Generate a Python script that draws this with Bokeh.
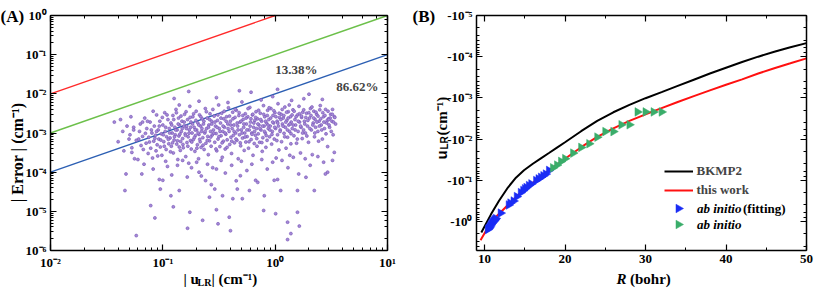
import math
from bokeh.plotting import figure
from bokeh.layouts import row
from bokeh.models import (Range1d, LogAxis, LinearAxis, LogTicker, SingleIntervalTicker,
                          CustomJSTickFormatter, Label, Legend, LegendItem)
from bokeh.embed import file_html
from bokeh.resources import INLINE

SERIF = "Liberation Serif"
SANS = "Liberation Sans"

# ---------------- Panel (A) data: (|u_LR|, |Error|) in cm^-1 ----------------
core_points = [
    (0.051, 9.0e-4), (0.053, 3.2e-4), (0.055, 1.4e-3), (0.058, 6.5e-4), (0.060, 2.1e-4),
    (0.062, 1.1e-3), (0.064, 4.8e-4), (0.066, 8.2e-4), (0.068, 1.6e-4), (0.069, 2.4e-3),
    (0.071, 5.5e-4), (0.072, 1.3e-3), (0.074, 3.0e-4), (0.075, 7.8e-4), (0.077, 1.9e-3),
    (0.078, 4.1e-4), (0.080, 1.0e-3), (0.081, 2.3e-4), (0.083, 6.2e-4), (0.084, 1.5e-3),
    (0.086, 8.8e-4), (0.087, 3.5e-4), (0.088, 2.9e-3), (0.089, 5.0e-4),
    (0.091, 1.2e-3), (0.092, 7.0e-4), (0.094, 2.0e-3), (0.095, 4.4e-4), (0.097, 9.5e-4),
    (0.098, 2.7e-4), (0.100, 1.6e-3), (0.102, 6.0e-4), (0.104, 3.3e-3), (0.105, 1.1e-3),
    (0.107, 3.8e-4), (0.108, 8.0e-4), (0.110, 1.4e-4), (0.111, 2.2e-3), (0.113, 5.3e-4),
    (0.114, 1.3e-3),
    (0.116, 7.5e-4), (0.118, 1.8e-3), (0.119, 4.6e-4), (0.121, 1.0e-3), (0.123, 2.8e-3),
    (0.124, 3.1e-4), (0.126, 6.6e-4), (0.128, 1.4e-3), (0.129, 9.0e-4), (0.131, 4.0e-3),
    (0.133, 5.2e-4), (0.134, 1.2e-3), (0.136, 2.1e-4), (0.138, 2.4e-3), (0.139, 8.4e-4),
    (0.141, 1.6e-3), (0.143, 3.6e-4), (0.144, 6.1e-4),
    (0.146, 1.1e-3), (0.148, 2.0e-3), (0.150, 7.2e-4), (0.152, 4.2e-4), (0.154, 1.5e-3),
    (0.156, 3.0e-3), (0.158, 9.6e-4), (0.160, 2.5e-4), (0.162, 1.3e-3), (0.164, 5.7e-4),
    (0.166, 2.2e-3), (0.168, 8.0e-4), (0.170, 1.7e-4), (0.172, 1.2e-3), (0.174, 4.8e-3),
    (0.176, 6.4e-4), (0.178, 1.9e-3), (0.179, 3.9e-4),
    (0.182, 1.0e-3), (0.185, 2.6e-3), (0.187, 6.8e-4), (0.190, 1.4e-3), (0.193, 3.4e-4),
    (0.195, 8.6e-4), (0.198, 3.6e-3), (0.200, 1.2e-3), (0.203, 5.0e-4), (0.205, 1.8e-3),
    (0.208, 2.2e-4), (0.210, 9.2e-4), (0.212, 2.9e-3), (0.215, 6.0e-4), (0.217, 1.5e-3),
    (0.219, 4.3e-4), (0.221, 1.1e-3), (0.224, 2.3e-3),
    (0.227, 7.6e-4), (0.230, 1.7e-3), (0.233, 3.8e-4), (0.236, 1.0e-3), (0.239, 4.2e-3),
    (0.242, 5.5e-4), (0.245, 1.3e-3), (0.248, 2.4e-3), (0.251, 8.2e-4), (0.254, 2.8e-4),
    (0.257, 1.6e-3), (0.260, 6.3e-4), (0.263, 3.1e-3), (0.266, 1.1e-3), (0.269, 4.6e-4),
    (0.272, 2.0e-3), (0.275, 8.9e-4), (0.278, 1.3e-4),
    (0.282, 1.2e-3), (0.286, 2.7e-3), (0.290, 5.8e-4), (0.294, 1.5e-3), (0.298, 9.7e-4),
    (0.302, 3.5e-4), (0.306, 2.1e-3), (0.310, 7.0e-4), (0.314, 5.2e-3), (0.318, 1.3e-3),
    (0.322, 4.5e-4), (0.326, 1.8e-3), (0.330, 8.5e-4), (0.334, 3.2e-3), (0.338, 2.4e-4),
    (0.342, 1.1e-3), (0.346, 6.2e-4), (0.349, 2.3e-3),
    (0.354, 1.4e-3), (0.359, 3.9e-4), (0.364, 9.3e-4), (0.369, 2.6e-3), (0.374, 6.7e-4),
    (0.379, 1.7e-3), (0.384, 4.4e-3), (0.389, 1.1e-3), (0.394, 5.1e-4), (0.399, 2.0e-3),
    (0.404, 7.8e-4), (0.409, 3.0e-4), (0.414, 1.3e-3), (0.419, 3.4e-3), (0.424, 8.7e-4),
    (0.429, 1.6e-3), (0.434, 5.6e-4), (0.439, 2.5e-3),
    (0.445, 1.0e-3), (0.451, 3.8e-3), (0.457, 6.5e-4), (0.463, 1.5e-3), (0.469, 2.2e-4),
    (0.475, 2.8e-3), (0.481, 9.0e-4), (0.487, 1.9e-3), (0.493, 4.7e-4), (0.499, 1.2e-3),
    (0.506, 6.2e-3), (0.512, 7.4e-4), (0.518, 2.2e-3), (0.524, 1.4e-3), (0.530, 3.6e-4),
    (0.536, 1.0e-3), (0.542, 3.1e-3), (0.548, 5.9e-4),
    (0.555, 1.7e-3), (0.563, 8.1e-4), (0.571, 2.6e-3), (0.579, 4.1e-4), (0.587, 1.2e-3),
    (0.595, 4.5e-3), (0.603, 1.9e-3), (0.611, 6.8e-4), (0.619, 1.0e-3), (0.627, 2.9e-3),
    (0.635, 2.7e-4), (0.643, 1.4e-3), (0.651, 5.4e-4), (0.659, 2.1e-3), (0.667, 8.8e-4),
    (0.675, 3.5e-3), (0.683, 1.3e-3), (0.689, 4.6e-4),
    (0.697, 2.3e-3), (0.707, 9.5e-4), (0.717, 1.6e-3), (0.727, 5.8e-4), (0.737, 3.2e-3),
    (0.747, 1.2e-3), (0.757, 2.0e-3), (0.767, 3.4e-4), (0.777, 7.6e-4), (0.787, 5.0e-3),
    (0.797, 1.5e-3), (0.807, 2.6e-3), (0.817, 1.0e-3), (0.827, 4.3e-4), (0.837, 1.8e-3),
    (0.847, 6.5e-4), (0.857, 3.8e-3), (0.867, 1.3e-3),
    (0.878, 2.2e-3), (0.891, 8.0e-4), (0.904, 1.5e-3), (0.917, 4.2e-3), (0.930, 5.2e-4),
    (0.943, 1.1e-3), (0.956, 2.8e-3), (0.969, 1.8e-3), (0.982, 7.0e-4), (0.995, 3.3e-3),
    (1.01, 1.3e-3), (1.02, 2.3e-4), (1.04, 2.0e-3), (1.05, 9.0e-4), (1.06, 5.6e-3),
    (1.07, 1.5e-3), (1.08, 3.7e-4), (1.09, 2.5e-3),
    (1.11, 1.2e-3), (1.13, 3.0e-3), (1.14, 6.0e-4), (1.16, 1.7e-3), (1.18, 2.4e-3),
    (1.20, 9.8e-4), (1.22, 4.6e-3), (1.23, 1.4e-3), (1.25, 4.1e-4), (1.27, 2.1e-3),
    (1.29, 7.8e-4), (1.31, 3.5e-3), (1.32, 1.6e-3), (1.34, 1.1e-3), (1.35, 2.7e-4),
    (1.37, 2.6e-3), (1.38, 5.3e-4), (1.39, 1.9e-3),
    (1.42, 1.3e-3), (1.44, 3.9e-3), (1.47, 8.5e-4), (1.50, 2.2e-3), (1.52, 1.6e-3),
    (1.55, 5.5e-4), (1.58, 2.9e-3), (1.60, 1.1e-3), (1.63, 4.8e-3), (1.65, 1.9e-3),
    (1.68, 3.1e-4), (1.70, 1.4e-3), (1.72, 2.5e-3), (1.74, 7.2e-4), (1.76, 3.4e-3),
    (1.79, 1.2e-3),
    (1.82, 2.0e-3), (1.86, 1.0e-3), (1.90, 3.2e-3), (1.94, 1.5e-3), (1.98, 5.8e-4),
    (2.02, 2.4e-3), (2.06, 4.2e-3), (2.10, 1.2e-3), (2.14, 2.8e-4), (2.18, 1.8e-3),
    (2.21, 3.6e-3), (2.24, 8.0e-4), (2.27, 2.2e-3), (2.29, 1.4e-3),
    (2.34, 3.0e-3), (2.40, 1.1e-3), (2.46, 2.0e-3), (2.52, 5.0e-3), (2.57, 1.6e-3),
    (2.63, 7.0e-4), (2.69, 2.6e-3), (2.75, 1.3e-3), (2.81, 4.0e-3), (2.87, 1.8e-3),
    (2.93, 4.5e-4), (2.98, 2.3e-3),
    (3.05, 1.4e-3), (3.12, 3.0e-3), (3.20, 2.0e-3), (3.28, 9.0e-4), (3.36, 2.6e-3),
    (3.45, 1.7e-3),
]
dense_points = [
    (0.061, 7.0e-4), (0.063, 1.7e-3), (0.067, 3.8e-4), (0.070, 9.8e-4), (0.073, 2.0e-3),
    (0.076, 5.9e-4), (0.079, 1.2e-3), (0.082, 3.6e-3), (0.085, 7.3e-4), (0.088, 1.1e-3),
    (0.090, 2.6e-4), (0.093, 1.5e-3), (0.096, 6.6e-4), (0.099, 2.5e-3), (0.101, 9.0e-4),
    (0.103, 4.6e-4),
    (0.106, 1.4e-3), (0.109, 2.9e-3), (0.112, 6.9e-4), (0.115, 1.0e-3), (0.117, 3.3e-4),
    (0.120, 1.6e-3), (0.122, 5.6e-4), (0.125, 2.2e-3), (0.127, 8.0e-4), (0.130, 1.2e-3),
    (0.132, 3.3e-3), (0.135, 6.3e-4), (0.137, 1.7e-3), (0.140, 4.4e-4), (0.142, 9.4e-4),
    (0.145, 2.7e-3), (0.149, 1.3e-3), (0.151, 5.1e-4), (0.155, 1.9e-3), (0.159, 8.7e-4),
    (0.161, 3.5e-3), (0.163, 1.5e-3), (0.167, 4.6e-4), (0.171, 9.9e-4), (0.175, 2.5e-3),
    (0.177, 1.4e-3), (0.181, 5.9e-4), (0.184, 1.7e-3), (0.188, 3.1e-3), (0.191, 7.7e-4),
    (0.194, 1.2e-3), (0.197, 2.1e-3), (0.201, 4.1e-4), (0.206, 1.0e-3), (0.209, 1.6e-3),
    (0.213, 6.9e-4), (0.218, 2.6e-3), (0.223, 1.3e-3), (0.228, 4.9e-4), (0.232, 2.0e-3),
    (0.238, 1.1e-3), (0.244, 3.5e-3),
    (0.249, 6.5e-4), (0.255, 1.4e-3), (0.261, 2.2e-3), (0.267, 7.9e-4), (0.273, 1.7e-3),
    (0.279, 4.0e-3), (0.284, 9.9e-4), (0.291, 1.9e-3), (0.297, 3.9e-4), (0.304, 1.4e-3),
    (0.309, 2.9e-3), (0.316, 8.1e-4), (0.323, 1.1e-3), (0.329, 2.4e-3), (0.337, 5.6e-4),
    (0.344, 1.5e-3), (0.352, 3.6e-3), (0.358, 1.0e-3), (0.366, 2.0e-3), (0.373, 4.3e-4),
    (0.381, 1.3e-3), (0.392, 2.7e-3),
    (0.402, 1.6e-3), (0.411, 6.2e-4), (0.421, 2.3e-3), (0.431, 1.1e-3), (0.441, 4.0e-3),
    (0.448, 7.0e-4), (0.459, 1.8e-3), (0.467, 1.2e-3), (0.478, 3.3e-3), (0.489, 5.6e-4),
    (0.497, 2.0e-3), (0.508, 1.0e-3), (0.515, 2.8e-3), (0.527, 1.7e-3), (0.539, 7.9e-4),
    (0.551, 2.4e-3), (0.561, 1.2e-3), (0.574, 4.2e-3), (0.585, 6.0e-4), (0.598, 1.5e-3),
    (0.609, 2.3e-3), (0.622, 9.3e-4), (0.633, 3.0e-3), (0.646, 1.8e-3),
    (0.655, 1.1e-3), (0.671, 2.5e-3), (0.686, 7.2e-4), (0.702, 1.7e-3), (0.712, 3.8e-3),
    (0.731, 1.3e-3), (0.743, 2.2e-3), (0.761, 5.7e-4), (0.772, 1.5e-3), (0.791, 3.0e-3),
    (0.803, 1.1e-3), (0.821, 2.0e-3), (0.833, 8.6e-4), (0.851, 2.8e-3), (0.862, 1.6e-3),
    (0.884, 4.4e-3), (0.897, 1.2e-3), (0.912, 2.4e-3), (0.936, 9.2e-4), (0.951, 1.9e-3),
    (0.975, 3.7e-3), (0.991, 1.4e-3), (1.015, 2.6e-3), (1.035, 6.4e-4),
    (1.055, 1.8e-3), (1.085, 3.2e-3), (1.105, 1.1e-3), (1.125, 2.2e-3), (1.155, 4.0e-3),
    (1.175, 1.5e-3), (1.195, 2.8e-3), (1.215, 8.0e-4), (1.245, 1.9e-3), (1.265, 3.4e-3),
    (1.285, 1.2e-3), (1.305, 2.4e-3), (1.335, 5.2e-3), (1.355, 1.7e-3), (1.385, 9.6e-4),
    (1.415, 2.9e-3), (1.445, 1.6e-3), (1.475, 3.6e-3), (1.505, 1.2e-3), (1.535, 2.6e-3),
    (1.575, 7.0e-4), (1.605, 2.0e-3), (1.645, 3.1e-3), (1.685, 1.5e-3),
    (1.715, 2.7e-3), (1.755, 1.0e-3), (1.795, 3.9e-3), (1.835, 1.7e-3), (1.875, 2.5e-3),
    (1.915, 8.4e-4), (1.955, 2.1e-3), (1.995, 3.3e-3), (2.035, 1.3e-3), (2.085, 2.8e-3),
    (2.125, 4.6e-3), (2.165, 1.6e-3), (2.205, 2.4e-3), (2.255, 1.0e-3), (2.305, 3.4e-3),
    (2.355, 1.9e-3), (2.405, 2.7e-3), (2.435, 6.2e-4), (2.475, 1.5e-3), (2.495, 3.9e-3),
    (2.545, 2.3e-3), (2.595, 1.2e-3), (2.655, 3.3e-3), (2.715, 1.9e-3), (2.775, 2.8e-3),
    (2.835, 9.5e-4), (2.905, 2.1e-3), (2.955, 3.6e-3), (3.015, 1.6e-3), (3.085, 2.4e-3),
    (3.155, 1.1e-3), (3.225, 3.0e-3), (3.305, 1.9e-3), (3.395, 2.5e-3),
]
low_points = [
    (0.065, 9.0e-5), (0.082, 1.2e-4), (0.093, 6.5e-5), (0.106, 1.9e-4), (0.120, 8.5e-5),
    (0.135, 1.5e-4), (0.150, 2.0e-4), (0.165, 7.5e-5), (0.180, 1.3e-4), (0.200, 1.8e-4),
    (0.220, 8.0e-5), (0.250, 1.6e-4), (0.270, 4.8e-5), (0.300, 1.2e-4), (0.330, 2.0e-4),
    (0.360, 9.5e-5), (0.410, 1.5e-4), (0.450, 6.0e-5), (0.500, 1.9e-4), (0.560, 1.1e-4),
    (0.620, 1.6e-4), (0.700, 5.5e-5), (0.760, 2.1e-4), (0.850, 1.2e-4), (0.950, 1.8e-4),
    (1.05, 6.5e-5), (1.15, 2.0e-4), (1.30, 1.3e-4), (1.45, 2.4e-4), (1.62, 9.0e-5),
    (1.85, 2.2e-4), (2.05, 1.5e-4), (2.40, 2.5e-4), (2.70, 1.8e-4),
]
edge_points = [
    (0.037, 1.9e-3), (0.040, 6.0e-4), (0.042, 2.2e-3), (0.044, 1.1e-3), (0.045, 3.5e-4),
    (0.047, 9.0e-5), (0.048, 1.5e-3), (0.050, 7.0e-4), (0.052, 2.6e-3), (0.053, 4.2e-4),
    (0.055, 1.2e-3), (0.056, 2.2e-4), (0.066, 1.9e-3),
    (0.126, 7.6e-3), (0.14, 5.2e-3), (0.17, 1.15e-2), (0.21, 6.5e-3), (0.30, 8.0e-3),
    (0.38, 6.0e-3), (0.48, 1.2e-2), (0.61, 1.1e-2), (0.75, 7.0e-3), (0.95, 8.5e-3),
    (1.05, 1.3e-2), (1.40, 6.8e-3), (1.80, 7.5e-3), (2.00, 9.8e-3), (2.63, 7.2e-3),
    (3.24, 4.0e-3), (3.00, 2.2e-3), (3.36, 3.2e-4), (2.93, 1.0e-4), (3.24, 2.0e-4),
]
tail_points = [
    (0.046, 3.4e-5), (0.058, 2.4e-6), (0.078, 1.4e-5), (0.085, 6.8e-6), (0.095, 3.7e-5),
    (0.100, 6.2e-5), (0.118, 2.5e-5), (0.124, 1.3e-5), (0.140, 3.4e-5), (0.166, 3.7e-6),
    (0.174, 9.5e-6), (0.210, 1.0e-4), (0.226, 5.9e-6), (0.240, 6.1e-5), (0.260, 2.3e-5),
    (0.290, 3.7e-5), (0.300, 1.1e-5), (0.310, 4.8e-6), (0.340, 2.5e-5), (0.390, 7.1e-6),
    (0.400, 3.2e-6), (0.420, 2.1e-5), (0.460, 3.7e-5), (0.490, 8.1e-5), (0.510, 2.1e-5),
    (0.590, 3.4e-5), (0.670, 6.2e-5), (0.790, 1.05e-5), (0.800, 2.5e-5), (0.980, 6.2e-5),
    (1.01, 8.7e-6), (1.12, 3.4e-5), (1.29, 5.3e-6), (1.29, 1.9e-6), (1.38, 2.7e-6),
    (1.58, 9.5e-6), (1.58, 3.4e-5), (1.64, 4.2e-6), (1.88, 7.4e-5), (2.23, 3.4e-5),
    (2.80, 9.0e-5),
]
ratio_levels = [1.0, 0.1, 0.01]          # |Error| = ratio * |u_LR|
ratio_colors = ["#ff2a2a", "#6cc04a", "#2c5fb3"]
u_axis_limits = [1e-2, 1e1]              # |u_LR| axis extent
err_axis_limits = [1e-6, 1e0]            # |Error| axis extent
share_texts = ["13.38%", "86.62%"]

# ---------------- Panel (B) data: R (bohr), u_LR (cm^-1) ----------------
R_bkmp2 = [9.6, 10.8, 11.8, 12.9, 13.9, 14.9, 16.0, 17.0, 18.0, 19.0, 20.0, 22.0, 24.0,
           26.0, 28.0, 30.0, 32.0, 34.0, 36.0, 38.0, 40.0, 42.0, 44.0, 46.0, 48.0, 50.0]
u_bkmp2 = [-1.86, -0.676, -0.316, -0.151, -0.0871, -0.0575, -0.0398, -0.0295, -0.0219,
           -0.0162, -0.0120, -6.46e-3, -3.63e-3, -2.24e-3, -1.48e-3, -1.02e-3, -7.24e-4,
           -5.13e-4, -3.63e-4, -2.57e-4, -1.86e-4, -1.35e-4, -1.00e-4, -7.59e-5, -5.89e-5,
           -4.68e-5]
R_this = [9.5, 10.0, 10.8, 11.4, 12.0, 12.9, 14.0, 14.9, 16.0, 17.0, 18.0, 19.0, 20.0,
          22.0, 24.0, 26.0, 28.0, 30.0, 32.0, 34.0, 36.0, 38.0, 40.0, 42.0, 44.0, 46.0,
          48.0, 50.0]
u_this = [-2.88, -1.95, -1.05, -0.78, -0.60, -0.40, -0.25, -0.166, -0.115, -0.083,
          -0.0575, -0.0417, -0.0302, -0.0158, -8.9e-3, -5.5e-3, -3.63e-3, -2.51e-3,
          -1.78e-3, -1.26e-3, -9.1e-4, -6.6e-4, -4.8e-4, -3.55e-4, -2.57e-4, -1.91e-4,
          -1.45e-4, -1.10e-4]
R_fit = [10.4, 10.5, 10.6, 10.7, 10.8, 10.9, 11.0, 11.1, 11.2, 11.3, 11.4, 12.0, 13.0,
         13.2, 13.6, 14.0, 14.5, 14.8, 15.0, 15.2, 15.5, 15.8, 16.4, 16.7, 17.0, 17.3,
         17.6, 18.0]
u_fit = [-1.58, -1.50, -1.41, -1.30, -1.20, -1.12, -1.05, -1.00, -0.95, -0.90, -0.85,
         -0.63, -0.40, -0.36, -0.32, -0.25, -0.20, -0.178, -0.162, -0.151, -0.135,
         -0.123, -0.102, -0.093, -0.085, -0.078, -0.071, -0.058]
R_abinitio = [18.5, 19.0, 19.5, 20.0, 21.0, 22.0, 23.0, 24.0, 25.0, 26.0, 27.0, 28.0,
              29.0, 30.0, 31.0, 32.0]
u_abinitio = [-0.050, -0.043, -0.035, -0.030, -0.022, -0.016, -0.013, -0.009, -0.0066,
              -0.0066, -0.0045, -0.0045, -0.0022, -0.0022, -0.0022, -0.0022]
R_axis_limits = [9, 50]
u_axis_limits_B = [1e-5, 5.1]            # magnitudes shown as -10^n
legend_names = ["BKMP2", "this work"]

# ---------------- helpers ----------------
SUP_JS = r"""
const sup = {"-": "\u207b", "0": "\u2070", "1": "\u00b9", "2": "\u00b2", "3": "\u00b3",
             "4": "\u2074", "5": "\u2075", "6": "\u2076", "7": "\u2077", "8": "\u2078",
             "9": "\u2079"};
const e = Math.round(Math.log10(Math.abs(tick)));
let s = "";
for (const c of String(e)) { s += sup[c]; }
return PREFIX + "10" + s;
"""


def pow_formatter(prefix):
    return CustomJSTickFormatter(code=SUP_JS.replace("PREFIX", '"%s"' % prefix))


def style_axis(ax, show_labels=True, fs="13px"):
    ax.axis_line_color = "black"
    ax.axis_line_width = 1.5
    ax.major_tick_line_color = "black"
    ax.minor_tick_line_color = "black"
    ax.major_tick_line_width = 1.2
    ax.minor_tick_line_width = 1
    ax.major_tick_in = 6
    ax.major_tick_out = 0
    ax.minor_tick_in = 3
    ax.minor_tick_out = 0
    ax.major_label_text_font = SERIF
    ax.major_label_text_font_style = "bold"
    ax.major_label_text_color = "black"
    ax.major_label_text_font_size = fs
    if show_labels:
        ax.major_label_standoff = 4
    else:
        ax.formatter = CustomJSTickFormatter(code="return ''")
        ax.major_label_text_alpha = 0
        ax.major_label_standoff = 0


def add_text(p, x, y, text, size="15px", style="bold", font=SERIF, angle=0.0,
             align="left", baseline="alphabetic"):
    # screen units: the frame covers the whole canvas (origin bottom-left)
    p.add_layout(Label(x=x, y=y, x_units="screen", y_units="screen", text=text,
                       text_font=font, text_font_style=style, text_font_size=size,
                       text_color="black", angle=angle, text_align=align,
                       text_baseline=baseline))


H = 288


def full_canvas_fig(width, x_range, y_range, **kw):
    p = figure(output_backend="svg", toolbar_location=None, width=width, height=H,
               x_range=x_range, y_range=y_range, min_border=0, min_border_left=0,
               min_border_right=0, min_border_top=0, min_border_bottom=0, **kw)
    p.title.visible = False
    p.grid.visible = False
    p.outline_line_color = None
    p.background_fill_color = "white"
    p.border_fill_color = "white"
    return p


# ---------------- Panel (A) ----------------
WA = 400
boxA = dict(left=50, right=387, top=15, bottom=250)          # plot box in canvas px
lx0, lx1 = math.log10(u_axis_limits[0]), math.log10(u_axis_limits[1])
ly0, ly1 = math.log10(err_axis_limits[0]), math.log10(err_axis_limits[1])
pxd_x = (boxA["right"] - boxA["left"]) / (lx1 - lx0)
pxd_y = (boxA["bottom"] - boxA["top"]) / (ly1 - ly0)
xrA = Range1d(10 ** (lx0 - boxA["left"] / pxd_x), 10 ** (lx1 + (WA - boxA["right"]) / pxd_x))
yrA = Range1d(10 ** (ly0 - (H - boxA["bottom"]) / pxd_y), 10 ** (ly1 + boxA["top"] / pxd_y))
pA = full_canvas_fig(WA, xrA, yrA, x_axis_type="log", y_axis_type="log")

for r, c in zip(ratio_levels, ratio_colors):
    u_end = min(u_axis_limits[1], err_axis_limits[1] / r)
    pA.line([u_axis_limits[0], u_end], [r * u_axis_limits[0], r * u_end],
            line_color=c, line_width=1.4)

for pts in (core_points, dense_points, low_points, edge_points, tail_points):
    xs, ys = zip(*pts)
    pA.scatter(list(xs), list(ys), marker="circle", size=3.0, fill_color="#a58ad6",
               line_color="#7450b5", line_width=0.6)

axA_bottom = pA.xaxis[0]
axA_left = pA.yaxis[0]
axA_top = LogAxis(ticker=LogTicker())
axA_right = LogAxis(ticker=LogTicker())
pA.add_layout(axA_top, "above")
pA.add_layout(axA_right, "right")
for ax, loc in ((axA_bottom, err_axis_limits[0]), (axA_top, err_axis_limits[1])):
    ax.fixed_location = loc
    ax.bounds = tuple(u_axis_limits)
for ax, loc in ((axA_left, u_axis_limits[0]), (axA_right, u_axis_limits[1])):
    ax.fixed_location = loc
    ax.bounds = tuple(err_axis_limits)
for ax in (axA_bottom, axA_left):
    style_axis(ax)
    ax.formatter = pow_formatter("")
style_axis(axA_top, show_labels=False)
style_axis(axA_right, show_labels=False)

pA.add_layout(Label(x=1.0, y=0.042, text=share_texts[0], text_font=SERIF,
                    text_font_style="bold", text_font_size="13px", text_baseline="middle"))
pA.add_layout(Label(x=3.5, y=0.0158, text=share_texts[1], text_font=SERIF,
                    text_font_style="bold", text_font_size="13px", text_baseline="middle"))

add_text(pA, 0, 272, "(A)", size="17px")
add_text(pA, 17, 136, "| Error | (cm\u207b\u00b9)", size="16px", angle=math.pi / 2,
         align="center", baseline="middle")
add_text(pA, 183, 9.5, "| u", size="15px")
add_text(pA, 197, 6.5, "LR", size="10px")
add_text(pA, 211, 9.5, "| (cm\u207b\u00b9)", size="15px")

# ---------------- Panel (B) ----------------
WB = 414
boxB = dict(left=76, right=406, top=15, bottom=250)
pxu = (boxB["right"] - boxB["left"]) / (R_axis_limits[1] - R_axis_limits[0])
gy_top, gy_bot = math.log10(u_axis_limits_B[0]), math.log10(u_axis_limits_B[1])
pxd_B = (boxB["bottom"] - boxB["top"]) / (gy_bot - gy_top)
xrB = Range1d(R_axis_limits[0] - boxB["left"] / pxu, R_axis_limits[1] + (WB - boxB["right"]) / pxu)
yrB = Range1d(10 ** (gy_bot + (H - boxB["bottom"]) / pxd_B), 10 ** (gy_top - boxB["top"] / pxd_B))
pB = full_canvas_fig(WB, xrB, yrB, y_axis_type="log")

TRI_R = 5.0   # triangle circumradius in px


def tri_vertices(R, mag):
    """Right-pointing triangle around (R, mag), sized in screen px via the panel scales."""
    dx = TRI_R / pxu
    f = 10 ** (0.866 * TRI_R / pxd_B)
    return [R + dx, R - 0.5 * dx, R - 0.5 * dx], [mag, mag * f, mag / f]


def right_triangles(p, xs, mags, color):
    vx, vy = zip(*(tri_vertices(x, m) for x, m in zip(xs, mags)))
    return p.patches(list(vx), list(vy), fill_color=color, line_color=color, line_width=0.5)


def screen_to_data_B(sx, sy):
    R = xrB.start + sx / pxu
    cy = H - sy
    mag = 10 ** (gy_top + (cy - boxB["top"]) / pxd_B)
    return R, mag


r_black = pB.line(R_bkmp2, [-u for u in u_bkmp2], line_color="black", line_width=2)
r_red = pB.line(R_this, [-u for u in u_this], line_color="#ff1010", line_width=2)
right_triangles(pB, R_fit, [-u for u in u_fit], "#1a2cf5")
right_triangles(pB, R_abinitio, [-u for u in u_abinitio], "#3aad6a")

axB_bottom = pB.xaxis[0]
axB_left = pB.yaxis[0]
axB_top = LinearAxis()
axB_right = LogAxis(ticker=LogTicker())
pB.add_layout(axB_top, "above")
pB.add_layout(axB_right, "right")
for ax in (axB_bottom, axB_top):
    ax.ticker = SingleIntervalTicker(interval=10, num_minor_ticks=2)
    ax.bounds = tuple(R_axis_limits)
axB_bottom.fixed_location = u_axis_limits_B[1]
axB_top.fixed_location = u_axis_limits_B[0]
for ax, loc in ((axB_left, R_axis_limits[0]), (axB_right, R_axis_limits[1])):
    ax.fixed_location = loc
    ax.bounds = tuple(u_axis_limits_B)
style_axis(axB_bottom)
style_axis(axB_left)
axB_left.formatter = pow_formatter("-")
style_axis(axB_top, show_labels=False)
style_axis(axB_right, show_labels=False)

# legend: two line entries, then the two marker entries drawn as triangle swatches
LEG_X, LEG_Y = 263.5, 90
legend = Legend(items=[LegendItem(label=legend_names[0], renderers=[r_black]),
                       LegendItem(label=legend_names[1], renderers=[r_red])],
                location=(LEG_X, LEG_Y), glyph_width=29, glyph_height=14, label_height=14,
                label_standoff=4, spacing=3, padding=0, margin=0,
                border_line_color=None, background_fill_alpha=0,
                label_text_font=SERIF, label_text_font_style="bold",
                label_text_font_size="13px")
pB.add_layout(legend)
for k, color in enumerate(["#1a2cf5", "#3aad6a"]):
    cx, cy = screen_to_data_B(LEG_X + 14.5, 80 - k * 16)
    right_triangles(pB, [cx], [cy], color)
add_text(pB, 296.5, 80, "ab initio", size="13px", style="bold italic", baseline="middle")
add_text(pB, 342.5, 80, "(fitting)", size="13px", baseline="middle")
add_text(pB, 296.5, 64, "ab initio", size="13px", style="bold italic", baseline="middle")

add_text(pB, 12, 272, "(B)", size="17px")
add_text(pB, 40.5, 129, "u", size="15px", font=SANS, angle=math.pi / 2)
add_text(pB, 43.5, 139, "LR", size="10px", font=SANS, angle=math.pi / 2)
add_text(pB, 41, 153, "(cm\u207b\u00b9)", size="15px", angle=math.pi / 2)
add_text(pB, 216, 9.5, "R", size="15px", style="bold italic")
add_text(pB, 229.5, 9.5, "(bohr)", size="15px")

layout = row(pA, pB)
with open("out.html", "w", encoding="utf-8") as f:
    f.write(file_html(layout, INLINE))
